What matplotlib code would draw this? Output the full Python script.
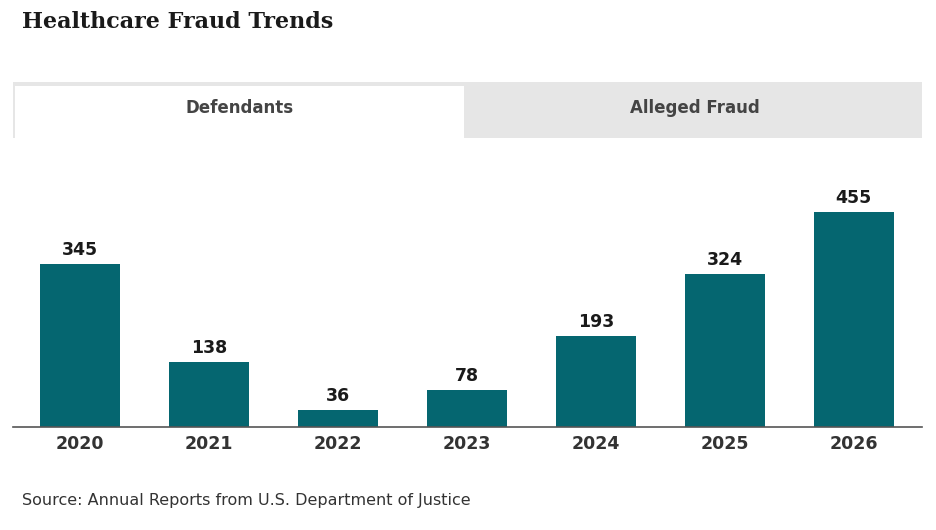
import matplotlib
matplotlib.use("Agg")
import matplotlib.pyplot as plt
from matplotlib.patches import Rectangle

years = ["2020", "2021", "2022", "2023", "2024", "2025", "2026"]
defendants = [345, 138, 36, 78, 193, 324, 455]
tabs = ["Defendants", "Alleged Fraud"]

W, H = 936, 530
fig = plt.figure(figsize=(W/100, H/100), dpi=100)
fig.patch.set_facecolor("white")

def fx(x): return x / W
def fy(y): return 1 - y / H

fig.text(fx(22), fy(22), "Healthcare Fraud Trends", family="DejaVu Serif",
         weight="bold", size=16, va="center", ha="left", color="#1a1a1a")

fig.patches.append(Rectangle((fx(13), fy(138)), fx(909), fy(82) - fy(138),
                             transform=fig.transFigure, facecolor="#e6e6e6", edgecolor="none"))
fig.patches.append(Rectangle((fx(15), fy(138)), fx(449), fy(86) - fy(138),
                             transform=fig.transFigure, facecolor="white", edgecolor="none"))
fig.text(fx(240), fy(108), tabs[0], ha="center", va="center", size=12, weight="bold", color="#444444")
fig.text(fx(695), fy(108), tabs[1], ha="center", va="center", size=12, weight="bold", color="#444444")

ax = fig.add_axes([fx(13), fy(427), fx(909), fy(150) - fy(427)])
x = range(len(years))
bars = ax.bar(x, defendants, width=0.62, color="#056670")
for xi, v in zip(x, defendants):
    ax.text(xi, v + 10, str(v), ha="center", va="bottom", size=12.5, weight="bold", color="#1a1a1a")
ax.set_xlim(-0.52, 6.53)
ax.set_ylim(0, 586)
ax.set_xticks(list(x))
ax.set_xticklabels(years, size=12.5, weight="bold", color="#333333")
ax.tick_params(axis="x", length=0, pad=6)
ax.set_yticks([])
for s in ["top", "right", "left"]:
    ax.spines[s].set_visible(False)
ax.spines["bottom"].set_color("#555555")
ax.spines["bottom"].set_linewidth(1.2)

fig.text(fx(22), fy(501), "Source: Annual Reports from U.S. Department of Justice",
         ha="left", va="center", size=11.5, color="#333333")

fig.savefig("out.png", dpi=100)
